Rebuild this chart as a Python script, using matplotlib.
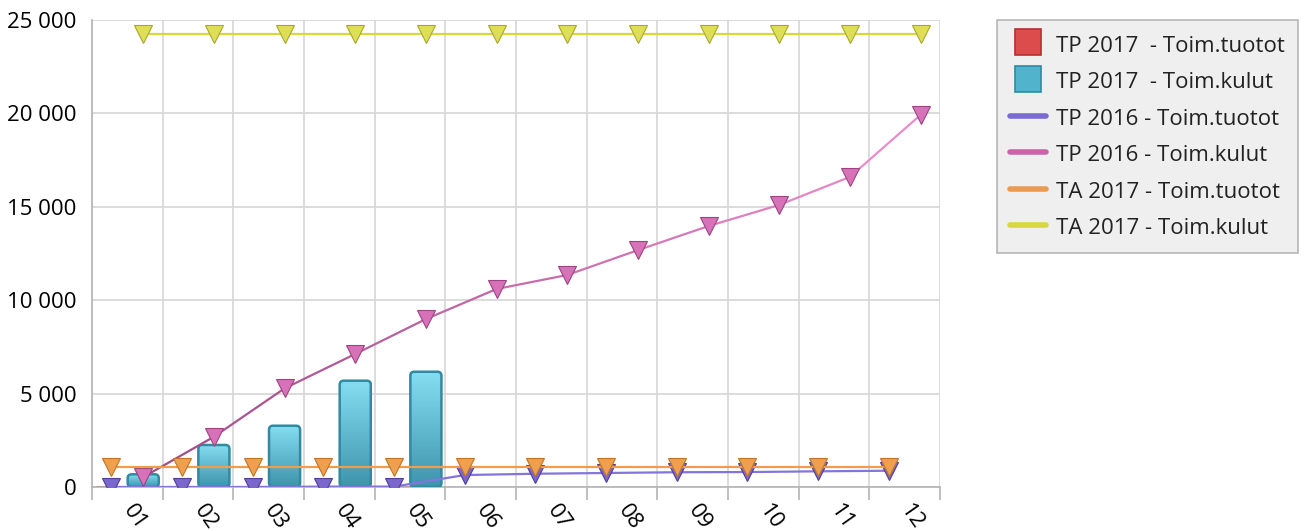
'''
Monthly operating income / expenses vs. previous year and budget.
'''
import numpy as np
import matplotlib
matplotlib.use('Agg')
import matplotlib.pyplot as plt
from matplotlib.patches import FancyBboxPatch
from matplotlib.lines import Line2D
from matplotlib.ticker import FuncFormatter, FixedLocator
from matplotlib.colors import LinearSegmentedColormap, to_rgb

plt.rcParams['font.family'] = ['Open Sans', 'DejaVu Sans']

months = ['01', '02', '03', '04', '05', '06', '07', '08', '09', '10', '11', '12']

# TP 2017 (actuals, only first five months booked)
tp2017_tuotot = [0, 0, 0, 0, 0]
tp2017_kulut = [680, 2250, 3280, 5690, 6170]

# TP 2016 (previous year, cumulative)
tp2016_tuotot = [0, 0, 0, 20, 20, 640, 710, 750, 790, 800, 840, 870]
tp2016_kulut = [530, 2690, 5280, 7120, 8990, 10600, 11350, 12680, 13970, 15100, 16600, 19920]

# TA 2017 (budget)
ta2017_tuotot = [1090, 1090, 1090, 1090, 1090, 1090, 1090, 1090, 1090, 1090, 1090, 1090]
ta2017_kulut = [24260, 24260, 24260, 24260, 24260, 24260, 24260, 24260, 24260, 24260, 24260, 24260]

labels = ['TP 2017  - Toim.tuotot', 'TP 2017  - Toim.kulut',
          'TP 2016 - Toim.tuotot', 'TP 2016 - Toim.kulut',
          'TA 2017 - Toim.tuotot', 'TA 2017 - Toim.kulut']

FS = 16
OFF = 0.225      # offset of the two series inside a month slot
BW = 0.44        # bar width

fig = plt.figure(figsize=(13.04, 5.31), dpi=100)
ax = fig.add_axes([92/1304, 1-487/531, (940-92)/1304, (487-20)/531])
YMAX = 25000
ax.set_xlim(-0.5, len(months)-0.5)
ax.set_ylim(0, YMAX)

# px -> data aspect for rounded corners
x_per_px = len(months) / 848.
y_per_px = YMAX / 467.
aspect = y_per_px / x_per_px

teal_cmap = LinearSegmentedColormap.from_list('teal', ['#86def2', '#3d94ac'])
grad = np.linspace(0, 1, 256).reshape(-1, 1)


def gradient_bar(x, h, cmap, edge):
    if h <= 0:
        return
    patch = FancyBboxPatch((x - BW/2, 0), BW, h,
                           boxstyle='round,pad=0,rounding_size=%f' % (4*x_per_px),
                           mutation_aspect=aspect,
                           facecolor='none', edgecolor=edge, lw=1.8, zorder=3)
    ax.add_patch(patch)
    im = ax.imshow(grad, extent=(x - BW/2, x + BW/2, 0, h), origin='upper',
                   cmap=cmap, aspect='auto', zorder=2.9)
    im.set_clip_path(patch)


xs = np.arange(len(months))

# red bars are zero -> just a thin red line on the axis
for i, v in enumerate(tp2017_tuotot):
    ax.plot([i - OFF - BW/2, i - OFF + BW/2], [v, v], color='#d84848', lw=1.5,
            zorder=2.5, solid_capstyle='butt')
for i, v in enumerate(tp2017_kulut):
    gradient_bar(i + OFF, v, teal_cmap, '#2f8aa2')

MS = 13

# lines, drawn in legend order so later series sit on top
def series(xpos, vals, line_c, face, edge, z, lw=1.6):
    ax.plot(xpos, vals, color=line_c, lw=lw, zorder=z)
    ax.plot(xpos, vals, ls='none', marker='v', markersize=MS,
            markerfacecolor=face, markeredgecolor=edge, markeredgewidth=0.8, zorder=z + 0.5)


series(xs - OFF, tp2016_tuotot, '#8474dc', '#7a66cc', '#4e3f9a', 4)

# TP 2016 kulut: line fades from plum to light pink
c0 = np.array(to_rgb('#a44e8c'))
c1 = np.array(to_rgb('#ea8ccc'))
kx = xs + OFF
for i in range(len(kx) - 1):
    t = i / (len(kx) - 2)
    ax.plot(kx[i:i+2], tp2016_kulut[i:i+2], color=c0 + (c1 - c0)*t, lw=1.6, zorder=5,
            solid_capstyle='round')
ax.plot(kx, tp2016_kulut, ls='none', marker='v', markersize=MS,
        markerfacecolor='#d872b8', markeredgecolor='#9a4482', markeredgewidth=0.8, zorder=5.5)

series(xs - OFF, ta2017_tuotot, '#ee9c4e', '#eea050', '#c07428', 6)
series(xs + OFF, ta2017_kulut, '#d8d83c', '#dede58', '#a8a828', 7)

# axes styling
ax.xaxis.set_major_locator(FixedLocator(np.arange(len(months)+1) - 0.5))
ax.xaxis.set_minor_locator(FixedLocator(xs))
ax.set_xticklabels([], minor=False)
ax.set_xticklabels(months, minor=True, rotation=-55, ha='left', va='center',
                   rotation_mode='anchor', fontsize=FS)
ax.tick_params(axis='x', which='major', length=9, width=1.2, color='#b4b4b4')
ax.tick_params(axis='x', which='minor', length=0, pad=14)
ax.set_yticks(np.arange(0, YMAX + 1, 5000))
ax.yaxis.set_major_formatter(FuncFormatter(lambda v, p: '{:,.0f}'.format(v).replace(',', ' ')))
ax.tick_params(axis='y', length=0, pad=11, labelsize=FS)
ax.grid(True, which='major', color='#d6d6d6', lw=1.2, zorder=0)
ax.set_axisbelow(True)
for s in ['top', 'right']:
    ax.spines[s].set_visible(False)
for s in ['left', 'bottom']:
    ax.spines[s].set_color('#b4b4b4')
    ax.spines[s].set_linewidth(1.2)

# legend: squares for the bar series, thick rounded strokes for lines
handles = [Line2D([], [], ls='none', marker='s', markersize=19,
                  markerfacecolor='#dc4c4c', markeredgecolor='#b83030', markeredgewidth=1.2),
           Line2D([], [], ls='none', marker='s', markersize=19,
                  markerfacecolor='#52b4cc', markeredgecolor='#2f8aa2', markeredgewidth=1.2),
           Line2D([], [], color='#7a6ad4', lw=4, solid_capstyle='round'),
           Line2D([], [], color='#cc62aa', lw=4, solid_capstyle='round'),
           Line2D([], [], color='#eb9a50', lw=4, solid_capstyle='round'),
           Line2D([], [], color='#d8d83c', lw=4, solid_capstyle='round')]
leg = fig.legend(handles, labels, loc='upper left', bbox_to_anchor=(997/1304, 1-20/531),
                 borderaxespad=0, fontsize=FS, frameon=True, fancybox=False,
                 handlelength=1.6, handleheight=1.1, labelspacing=0.6, borderpad=0.6,
                 handletextpad=0.45)
leg.get_frame().set_facecolor('#ebebeb')
leg.get_frame().set_edgecolor('#a6a6a6')
leg.get_frame().set_linewidth(1.2)
for t in leg.get_texts():
    t.set_color('#222222')

fig.savefig('out.png', dpi=100)
